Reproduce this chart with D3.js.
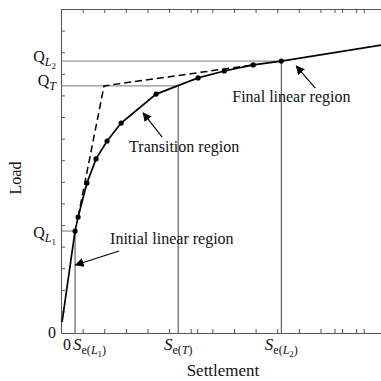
<!DOCTYPE html>
<html><head><meta charset="utf-8">
<script src="https://cdn.jsdelivr.net/npm/d3@7"></script>
<style>
html,body{margin:0;padding:0;background:#fff;}
svg{display:block;font-family:"Liberation Serif","Times New Roman",serif;}
</style></head>
<body><div id="chart"></div>
<script>
// ---- data (settlement units, load units) ----
const curveS = [0.05, 0.65, 0.79, 1.20, 1.62, 2.13, 2.78, 4.40, 6.34, 7.55, 8.89, 10.19, 14.81];
const curveQ = [0.51, 4.72, 5.37, 6.94, 8.06, 8.89, 9.72, 11.06, 11.81, 12.13, 12.41, 12.59, 13.33];
const dotIdx = [1,2,3,4,5,6,7,8,9,10,11];
const dashS = [0.79, 1.99, 8.89];
const dashQ = [5.37, 11.44, 12.41];
const refS = [0.65, 5.42, 10.19];      // Se(L1), Se(T), Se(L2)
const refQ = [4.72, 11.44, 12.59];     // QL1, QT, QL2
const tickVals = [1,2,3,4,5,6,7,8,9,10,11,12,13,14];
const extraXTicks = [6.3, 12.65, 13.65];
const xLabels = [
  {v:0, parts:[["0",""]]},
  {v:refS[0], parts:[["S","i"],["e(","s"],["L","si"],["1","ss"],[")","s"]]},
  {v:refS[1], parts:[["S","i"],["e(","s"],["T","si"],[")","s"]]},
  {v:refS[2], parts:[["S","i"],["e(","s"],["L","si"],["2","ss"],[")","s"]]}
];
const yLabels = [
  {v:0, parts:[["0",""]]},
  {v:refQ[0], parts:[["Q",""],["L","si"],["1","ss"]]},
  {v:refQ[1], parts:[["Q",""],["T","si"]]},
  {v:refQ[2], parts:[["Q",""],["L","si"],["2","ss"]]}
];
const notes = [
  {text:"Initial linear region", tx:2.27, ty:4.12, ax0:2.69, ay0:3.80, ax1:0.67, ay1:3.15},
  {text:"Transition region", tx:3.15, ty:8.38, ax0:4.68, ay0:9.07, ax1:3.80, ay1:10.19},
  {text:"Final linear region", tx:7.92, ty:10.69, ax0:11.76, ay0:11.34, ax1:10.88, ay1:12.36}
];

const W=381,H=381, L=61, R=381, T=9, B=333;
const x = d3.scaleLinear().domain([0,14.8]).range([L,R]);
const y = d3.scaleLinear().domain([0,15]).range([B,T]);
const svg = d3.select("#chart").append("svg").attr("width",W).attr("height",H);
const axisCol="#555";

// axes (inward ticks)
function styleAxis(g){ g.select(".domain").attr("stroke",axisCol).attr("stroke-width",1.1);
  g.selectAll(".tick line").attr("stroke",axisCol); g.selectAll(".tick text").remove(); }
svg.append("g").attr("transform",`translate(${L},0)`)
  .call(d3.axisLeft(y).tickValues(tickVals).tickSize(-4).tickSizeOuter(0).tickFormat("")).call(styleAxis);
svg.append("g").attr("transform",`translate(0,${B})`)
  .call(d3.axisBottom(x).tickValues(tickVals.concat(extraXTicks)).tickSize(-4).tickSizeOuter(0).tickFormat("")).call(styleAxis);
svg.append("g").attr("transform",`translate(0,${T})`)
  .call(d3.axisTop(x).tickValues(tickVals.concat(extraXTicks)).tickSize(-4).tickSizeOuter(0).tickFormat("")).call(styleAxis);

// reference lines
refS.forEach((s,i)=>{
  svg.append("line").attr("x1",x(0)).attr("x2",x(s)).attr("y1",y(refQ[i])).attr("y2",y(refQ[i]))
    .attr("stroke","#777").attr("stroke-width",1);
  svg.append("line").attr("x1",x(s)).attr("x2",x(s)).attr("y1",y(0)).attr("y2",y(refQ[i]))
    .attr("stroke","#444").attr("stroke-width",1);
});

// dashed construction line
const line = d3.line().x(d=>x(d[0])).y(d=>y(d[1]));
svg.append("path").attr("d",line(dashS.map((s,i)=>[s,dashQ[i]])))
  .attr("fill","none").attr("stroke","#000").attr("stroke-width",1.5).attr("stroke-dasharray","7,4");

// load-settlement curve
svg.append("path").attr("d",line(curveS.map((s,i)=>[s,curveQ[i]])))
  .attr("fill","none").attr("stroke","#000").attr("stroke-width",1.7);
svg.selectAll("circle.pt").data(dotIdx).enter().append("circle")
  .attr("cx",i=>x(curveS[i])).attr("cy",i=>y(curveQ[i])).attr("r",2.6).attr("fill","#000");

// labels
function addParts(t, parts){
  parts.forEach(([s,k])=>{
    const ts=t.append("tspan").text(s);
    if(k==="i") ts.attr("font-style","italic").attr("font-size",17);
    if(k==="s"){ ts.attr("font-size",12); }
    if(k==="si"){ ts.attr("font-size",12).attr("font-style","italic"); }
    if(k==="ss"){ ts.attr("font-size",9); }
  });
}
function shiftParts(t){
  let cur=0;
  t.selectAll("tspan").each(function(){
    const fs=+d3.select(this).attr("font-size")||0;
    const target = fs===12?4:(fs===9?7:0);
    d3.select(this).attr("dy",target-cur); cur=target;
  });
}
yLabels.forEach((lb,i)=>{
  const off = i===0?5:(i===1?6.5:(i===2?0.5:1));
  const t=svg.append("text").attr("x",L-5).attr("y",y(lb.v)+off).attr("text-anchor","end")
    .attr("font-size",16).attr("fill","#111");
  addParts(t,lb.parts); shiftParts(t);
});
xLabels.forEach((lb,i)=>{
  const t=svg.append("text").attr("y",B+17).attr("font-size",16).attr("fill","#111");
  if(i===0){ t.attr("x",x(0)+2).attr("text-anchor","start"); }
  else if(i===1){ t.attr("x",x(lb.v)-2).attr("text-anchor","start"); }
  else { t.attr("x",x(lb.v)).attr("text-anchor","middle"); }
  addParts(t,lb.parts); shiftParts(t);
});

// axis titles
svg.append("text").attr("x",223).attr("y",376).attr("text-anchor","middle").attr("font-size",17)
  .attr("fill","#111").text("Settlement");
svg.append("text").attr("transform","translate(21,178) rotate(-90)").attr("text-anchor","middle")
  .attr("font-size",16).attr("fill","#111").text("Load");

// annotations
svg.append("defs").append("marker").attr("id","ah").attr("viewBox","0 0 10 10").attr("refX",9).attr("refY",5)
  .attr("markerWidth",9).attr("markerHeight",9).attr("markerUnits","userSpaceOnUse").attr("orient","auto")
  .append("path").attr("d","M0,0L10,5L0,10Z").attr("fill","#000");
notes.forEach(n=>{
  svg.append("text").attr("x",x(n.tx)).attr("y",y(n.ty)).attr("font-size",16).attr("fill","#111").text(n.text);
  svg.append("line").attr("x1",x(n.ax0)).attr("y1",y(n.ay0)).attr("x2",x(n.ax1)).attr("y2",y(n.ay1))
    .attr("stroke","#000").attr("stroke-width",1.1).attr("marker-end","url(#ah)");
});
</script></body></html>
